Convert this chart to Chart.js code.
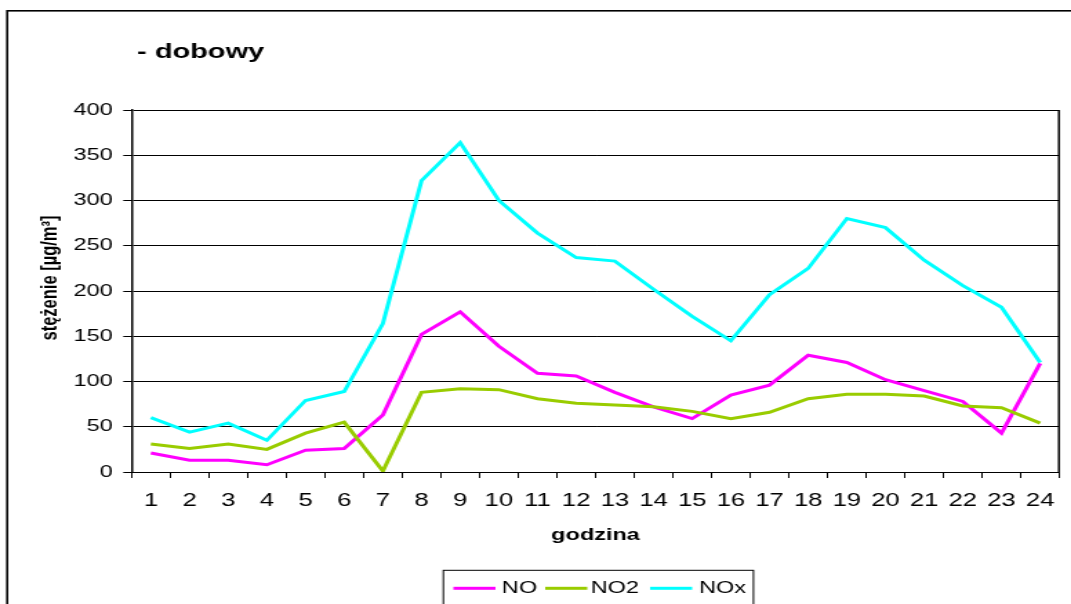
<!DOCTYPE html>
<html lang="pl">
<head>
<meta charset="utf-8">
<title>Stężenie NO, NO2, NOx - dobowy</title>
<script src="https://cdn.jsdelivr.net/npm/chart.js@4/dist/chart.umd.min.js"></script>
<style>
  html, body { margin: 0; padding: 0; background: #fff; overflow: hidden; }
  #wrap { width: 776px; height: 604px; transform: scaleX(1.3802); transform-origin: 0 0; }
  canvas { display: block; }
</style>
</head>
<body>
<div id="wrap"><canvas id="chart" width="776" height="604"></canvas></div>
<script>
// Godziny doby
const hours = ['1','2','3','4','5','6','7','8','9','10','11','12','13','14','15','16','17','18','19','20','21','22','23','24'];

// Średnie stężenia godzinowe [µg/m3]
const noValues  = [21, 13, 13, 8, 24, 26, 63, 152, 177, 139, 109, 106, 88, 72, 59, 85, 96, 129, 121, 102, 90, 78, 43, 120];
const no2Values = [31, 26, 31, 25, 43, 55, 1, 88, 92, 91, 81, 76, 74, 72, 67, 59, 66, 81, 86, 86, 84, 73, 71, 54];
const noxValues = [60, 44, 54, 35, 79, 89, 164, 322, 364, 300, 264, 237, 233, 202, 172, 145, 196, 225, 280, 270, 234, 206, 182, 121];

const seriesNames  = ['NO', 'NO2', 'NOx'];
const seriesColors = ['#FF00FF', '#99CC00', '#00FFFF'];

const yTicks = { min: 0, max: 400, step: 50 };

const chartTitle = '- dobowy';
const yTitle = 'stężenie [µg/m³]';
const xTitle = 'godzina';

const FONT = '"Liberation Sans", Arial, Helvetica, sans-serif';

// Ramka, tytuł, opis osi Y, prawa krawędź wykresu i legenda
const decorations = {
  id: 'decorations',
  afterDraw(chart) {
    const ctx = chart.ctx;
    const area = chart.chartArea;
    ctx.save();

    // zewnętrzna ramka
    ctx.strokeStyle = '#000';
    ctx.lineWidth = 1.6;
    ctx.strokeRect(5.2, 10.8, 900, 900);

    // prawa krawędź obszaru wykresu
    ctx.lineWidth = 1.5;
    ctx.beginPath();
    ctx.moveTo(area.right - 0.4, area.top);
    ctx.lineTo(area.right - 0.4, area.bottom + 0.5);
    ctx.stroke();

    // tytuł
    ctx.fillStyle = '#000';
    ctx.font = 'bold 21px ' + FONT;
    ctx.textAlign = 'left';
    ctx.textBaseline = 'alphabetic';
    ctx.fillText(chartTitle, 99.3, 58);

    // opis osi Y
    ctx.save();
    ctx.translate(36.0, 278);
    ctx.rotate(-Math.PI / 2);
    ctx.font = 'bold 16.5px ' + FONT;
    ctx.textAlign = 'center';
    ctx.textBaseline = 'middle';
    ctx.fillText(yTitle, 0, 0);
    ctx.restore();

    // legenda
    const boxLeft = 321.2, boxRight = 545.9, boxTop = 569.8;
    ctx.fillStyle = '#fff';
    ctx.fillRect(boxLeft, boxTop, boxRight - boxLeft, 60);
    ctx.strokeStyle = '#000';
    ctx.lineWidth = 1;
    ctx.strokeRect(boxLeft, boxTop + 0.5, boxRight - boxLeft, 60);

    const lineStarts = [328.5, 395.0, 471.0];
    const textStarts = [363.6, 428.0, 506.5];
    const rowY = 588.3;
    ctx.font = '17px ' + FONT;
    ctx.textAlign = 'left';
    ctx.textBaseline = 'middle';
    chart.data.datasets.forEach((ds, i) => {
      ctx.strokeStyle = ds.borderColor;
      ctx.lineWidth = 3;
      ctx.beginPath();
      ctx.moveTo(lineStarts[i], rowY);
      ctx.lineTo(lineStarts[i] + 30.5, rowY);
      ctx.stroke();
      ctx.fillStyle = '#000';
      ctx.fillText(ds.label, textStarts[i], rowY);
    });

    ctx.restore();
  }
};

const datasets = [noValues, no2Values, noxValues].map((values, i) => ({
  label: seriesNames[i],
  data: values,
  borderColor: seriesColors[i],
  backgroundColor: seriesColors[i],
  borderWidth: 3,
  pointRadius: 0,
  pointHoverRadius: 0,
  tension: 0,
  fill: false,
  order: 3 - i
}));

new Chart(document.getElementById('chart'), {
  type: 'line',
  data: { labels: hours, datasets },
  options: {
    responsive: false,
    animation: false,
    devicePixelRatio: 1,
    events: [],
    layout: { padding: { top: 110, right: 1.4, bottom: 52, left: 0 } },
    plugins: {
      legend: { display: false },
      title: { display: false },
      tooltip: { enabled: false }
    },
    scales: {
      x: {
        type: 'category',
        offset: true,
        grid: {
          offset: true,
          drawOnChartArea: false,
          drawTicks: true,
          tickLength: 6,
          color: '#000',
          lineWidth: 1
        },
        border: { display: true, color: '#000', width: 1 },
        ticks: {
          color: '#000',
          font: { family: FONT, size: 18.6 },
          padding: 12,
          maxRotation: 0,
          autoSkip: false
        },
        title: {
          display: true,
          text: xTitle,
          color: '#000',
          font: { family: FONT, size: 17, weight: 'bold' },
          padding: { top: 0, bottom: 6 }
        },
        afterFit(scale) { scale.height = 80; }
      },
      y: {
        min: yTicks.min,
        max: yTicks.max,
        grid: {
          color: '#000',
          lineWidth: 1,
          drawTicks: true,
          tickLength: 6
        },
        border: { display: true, color: '#000', width: 1.5 },
        ticks: {
          stepSize: yTicks.step,
          color: '#000',
          font: { family: FONT, size: 17 },
          padding: 7.6
        },
        afterFit(scale) { scale.width = 95.3; }
      }
    }
  },
  plugins: [decorations]
});
</script>
</body>
</html>
